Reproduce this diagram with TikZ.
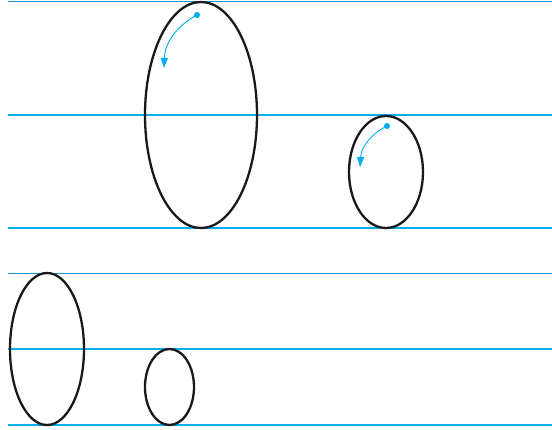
\documentclass[tikz,border=0pt]{standalone}
\usetikzlibrary{arrows.meta}
\definecolor{cyanline}{RGB}{0,174,239}
\definecolor{guide}{RGB}{20,150,210}
\begin{document}
\begin{tikzpicture}[x=1pt, y=-1pt,
		level/.style={draw=cyanline, line width=1.3pt},
		base/.style={draw=guide, line width=0.7pt},
		body/.style={draw=black!90, line width=2.3pt},
		spin/.style={draw=cyanline, line width=0.9pt, -{Triangle[length=10pt, width=7pt]}}]
	\useasboundingbox (0,0) rectangle (552,430);
	% ---------------- upper panel ----------------
	\draw[base] (8,1) -- (552,1);
	\draw[level] (8,115) -- (552,115);
	\draw[level] (8,228) -- (552,228);
	\draw[body] (201,115) ellipse (56 and 113);
	\draw[body] (386,172) ellipse (37 and 56);
	% rotation arrows
	\coordinate (s1) at (197,15);
	\coordinate (e1) at (164,68);
	\fill[cyanline] (s1) circle (3);
	\draw[spin] (s1) to[bend right=30] (e1);
	\coordinate (s2) at (387,126);
	\coordinate (e2) at (360,167);
	\fill[cyanline] (s2) circle (3);
	\draw[spin] (s2) to[bend right=30] (e2);
	% ---------------- lower panel ----------------
	\draw[base] (8,273) -- (552,273);
	\draw[level] (8,349) -- (552,349);
	\draw[level] (8,425) -- (552,425);
	\draw[body] (47,349) ellipse (37 and 76);
	\draw[body] (169.5,387) ellipse (24.5 and 38);
\end{tikzpicture}
\end{document}
